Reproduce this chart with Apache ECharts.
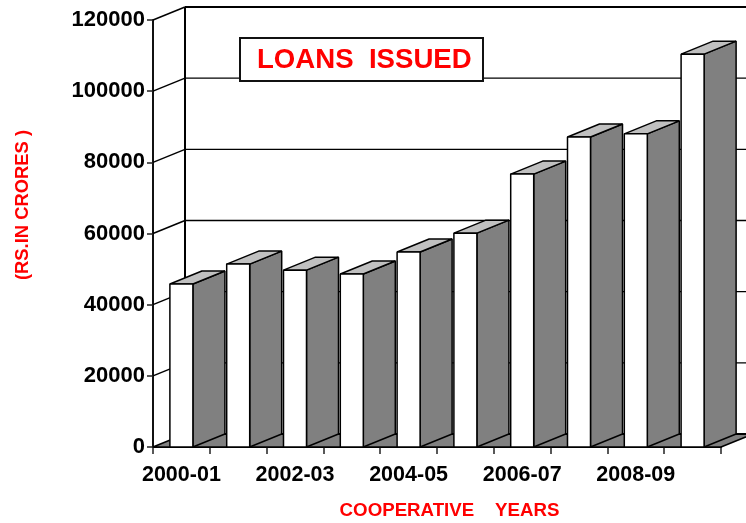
<!DOCTYPE html>
<html>
<head>
<meta charset="utf-8">
<style>html,body{margin:0;padding:0;background:#fff}#c{width:746px;height:523px}</style>
<script src="https://cdn.jsdelivr.net/npm/echarts@6/dist/echarts.min.js"></script>
</head>
<body>
<div id="c"></div>
<script>
var categories = ['2000-01','2001-02','2002-03','2003-04','2004-05','2005-06','2006-07','2007-08','2008-09','2009-10'];
var loans = [45800,51400,49700,48600,54800,60100,76700,87100,88000,110400];
var gridValues = [0,20000,40000,60000,80000,100000,120000];

var DX = 32, DY = -13, BAR = 0.405;
var LINE = '#000', SIDE = '#808080', TOPC = '#c0c0c0';
var FONT = '"Liberation Sans", Arial, sans-serif';

function line(x1,y1,x2,y2,w){
  return {type:'line',shape:{x1:x1,y1:y1,x2:x2,y2:y2},style:{stroke:LINE,lineWidth:w||1.2}};
}
function poly(pts,fill,w){
  return {type:'polygon',shape:{points:pts},style:{fill:fill,stroke:LINE,lineWidth:w||1.5,lineJoin:'bevel'}};
}

var chart = echarts.init(document.getElementById('c'),null,{renderer:'canvas'});
chart.setOption({
  animation:false,
  backgroundColor:'#fff',
  title:{
    text:'LOANS  ISSUED',left:240,top:38,
    padding:[8,12,7,17],
    backgroundColor:'#fff',borderColor:'#111',borderWidth:2,
    textStyle:{color:'#ff0000',fontFamily:FONT,fontWeight:'bold',fontSize:27.6,lineHeight:28}
  },
  grid:{left:153,right:25,top:20,bottom:76,containLabel:false,outerBoundsMode:'none'},
  xAxis:{
    type:'category',data:categories,
    name:'COOPERATIVE    YEARS',nameLocation:'center',nameGap:54,
    nameTextStyle:{color:'#ff0000',fontFamily:FONT,fontWeight:'bold',fontSize:18.7,padding:[0,0,0,25]},
    axisLine:{show:true,lineStyle:{color:'#000',width:2}},
    axisTick:{show:true,length:7,alignWithLabel:false,interval:0,lineStyle:{color:'#222',width:1.5}},
    axisLabel:{interval:1,margin:17,color:'#000',fontFamily:FONT,fontWeight:'bold',fontSize:21.5},
    splitLine:{show:false}
  },
  yAxis:{
    type:'value',min:0,max:120000,interval:20000,
    name:'(RS.IN CRORES )',nameLocation:'center',nameGap:121,nameRotate:90,
    nameTextStyle:{color:'#ff0000',fontFamily:FONT,fontWeight:'bold',fontSize:18.4,padding:[0,0,0,57]},
    axisLine:{show:true,lineStyle:{color:'#111',width:2}},
    axisTick:{show:true,length:6,lineStyle:{color:'#222',width:1.5}},
    axisLabel:{margin:8,padding:[3,0,0,0],color:'#000',fontFamily:FONT,fontWeight:'bold',fontSize:22,
      formatter:function(v){return String(v);}},
    splitLine:{show:false}
  },
  series:[
    {
      type:'custom',z:1,silent:true,clip:false,
      data:gridValues.map(function(v){return [0,v];}),
      encode:{x:0,y:1},
      renderItem:function(params,api){
        var cs = params.coordSys;
        var y = api.coord([0,api.value(1)])[1];
        var L = cs.x, R = cs.x+cs.width, W = 746;
        var kids = [];
        if(api.value(1)===0){
          kids.push(poly([[L,y],[R,y],[R+DX,y+DY],[L+DX,y+DY]],SIDE,1.5));
          kids.push(line(L+DX,y+DY,W,y+DY,2));
        } else {
          kids.push(line(L,y,L+DX,y+DY,1.5));
          kids.push(line(L+DX,y+DY,W,y+DY,api.value(1)===120000?2:1.3));
        }
        if(api.value(1)===120000){
          kids.push(line(L+DX,y+DY,L+DX,cs.y+cs.height+DY,2));
        }
        return {type:'group',children:kids};
      }
    },
    {
      type:'custom',z:3,silent:true,clip:false,
      data:loans.map(function(v,i){return [i,v];}),
      encode:{x:0,y:1},
      renderItem:function(params,api){
        var top = api.coord([api.value(0),api.value(1)]);
        var base = api.coord([api.value(0),0]);
        var w = api.size([1,0])[0]*BAR;
        var x0 = top[0]-w/2, x1 = top[0]+w/2, y0 = top[1], yb = base[1];
        return {type:'group',children:[
          poly([[x1,y0],[x1+DX,y0+DY],[x1+DX,yb+DY],[x1,yb]],SIDE,1.5),
          poly([[x0,y0],[x0+DX,y0+DY],[x1+DX,y0+DY],[x1,y0]],TOPC,1.5),
          poly([[x0,y0],[x1,y0],[x1,yb],[x0,yb]],'#fff',1.5)
        ]};
      }
    }
  ]
});
</script>
</body>
</html>
